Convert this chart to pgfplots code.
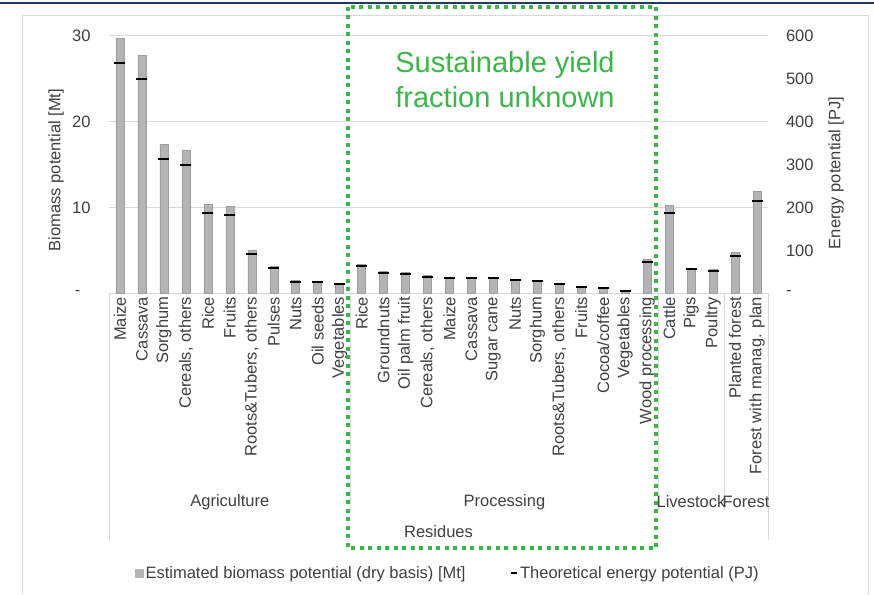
\documentclass[border=0pt]{standalone}
\usepackage{fontspec}
\setmainfont{Liberation Sans}
\usepackage{pgfplots}
\pgfplotsset{compat=1.18}
\definecolor{barfill}{RGB}{180,180,182}
\definecolor{baredge}{RGB}{158,158,162}
\definecolor{gridc}{RGB}{217,217,217}
\definecolor{txt}{RGB}{64,64,64}
\definecolor{hl}{RGB}{61,181,74}
\definecolor{navy}{RGB}{31,56,100}
\newcommand{\fs}{\fontsize{16.5}{19.5}\selectfont}

\begin{document}
\begin{tikzpicture}
\useasboundingbox (0,0) rectangle (874pt,594pt);
\fill[white] (0,0) rectangle (874pt,594pt);
% frame of the chart area
\draw[navy, line width=2pt] (0,591pt) -- (874pt,591pt);
\draw[gridc, line width=1pt] (22pt,0) -- (22pt,578pt) -- (868pt,578pt) -- (868pt,0);

% biomass bars (left axis)
\begin{axis}[
  scale only axis, width=659pt, height=257.6pt,
  at={(109pt,300.7pt)}, anchor=south west,
  xmin=-0.5, xmax=29.5, ymin=0, ymax=30,
  xtick={0,...,29}, ytick={0,10,20,30},
  yticklabels={{-\rule{10pt}{0pt}},10,20,30},
  xticklabels={Maize,Cassava,Sorghum,{Cereals, others},Rice,Fruits,{Roots\&Tubers, others},Pulses,Nuts,Oil seeds,Vegetables,Rice,Groundnuts,Oil palm fruit,{Cereals, others},Maize,Cassava,Sugar cane,Nuts,Sorghum,{Roots\&Tubers, others},Fruits,Cocoa/coffee,Vegetables,Wood processing,Cattle,Pigs,Poultry,Planted forest,Forest with manag. plan},
  x tick label style={rotate=90, anchor=east},
  yticklabel style={anchor=east, xshift=-15pt},
  tick label style={font=\fs, text=txt},
  major tick length=0pt,
  axis line style={draw=none},
  ymajorgrids, grid style={gridc, line width=1pt},
  clip=false,
]
\addplot[ybar, bar width=8pt, fill=barfill, draw=baredge, line width=0.5pt] coordinates {
  (0,29.7) (1,27.7) (2,17.3) (3,16.7) (4,10.4) (5,10.1) (6,5.05) (7,3.2) (8,1.5) (9,1.45)
  (10,1.2) (11,3.4) (12,2.55) (13,2.4) (14,2.05) (15,1.9) (16,1.82) (17,1.82) (18,1.6) (19,1.5)
  (20,1.17) (21,0.82) (22,0.7) (23,0.3) (24,4.0) (25,10.2) (26,2.9) (27,2.85) (28,4.75) (29,11.9)
};
\end{axis}

% energy markers (right axis)
\begin{axis}[
  scale only axis, width=659pt, height=257.6pt,
  at={(109pt,300.7pt)}, anchor=south west,
  xmin=-0.5, xmax=29.5, ymin=0, ymax=600,
  axis y line*=right, axis x line=none,
  axis line style={draw=none},
  ytick={0,100,200,300,400,500,600},
  yticklabels={-,100,200,300,400,500,600},
  yticklabel style={anchor=west, xshift=14.5pt},
  tick label style={font=\fs, text=txt},
  major tick length=0pt,
  clip=false,
  legend columns=2,
  legend style={at={(axis description cs:0.0394,-1.086)}, anchor=west,
    draw=none, fill=none, inner sep=0pt, font=\fs, text=txt,
    nodes={inner sep=2pt},
    /tikz/every even column/.append style={column sep=42pt}},
]
\addlegendimage{legend image code/.code={\fill[barfill] (0pt,-4pt) rectangle (8pt,4pt);}}
\addlegendentry{Estimated biomass potential (dry basis) [Mt]}
\addplot[only marks, mark=-, mark size=5.5pt, mark options={line width=2pt, black},
  legend image code/.code={\draw[black, line width=2pt] (0pt,0pt) -- (6.5pt,0pt);}] coordinates {
  (0,536) (1,498) (2,312) (3,300) (4,186) (5,182) (6,92) (7,58) (8,26) (9,26)
  (10,22) (11,63) (12,48) (13,46) (14,39) (15,36) (16,35) (17,35) (18,30) (19,29)
  (20,22) (21,15) (22,13) (23,5) (24,73) (25,186) (26,56) (27,52) (28,87) (29,214)
};
\addlegendentry{Theoretical energy potential (PJ)}
\end{axis}

% axis titles
\node[rotate=90, font=\fs, text=txt] at (56pt,424pt) {Biomass potential [Mt]};
\node[rotate=90, font=\fs, text=txt] at (836pt,421pt) {Energy potential [PJ]};

% multi-level category separators
\draw[gridc, line width=1pt] (109pt,300.7pt) -- (109pt,54pt);
\draw[gridc, line width=1pt] (768pt,300.7pt) -- (768pt,54pt);
\draw[gridc, line width=1pt] (350.6pt,300.7pt) -- (350.6pt,84pt);
\draw[gridc, line width=1pt] (658.1pt,300.7pt) -- (658.1pt,84pt);
\draw[gridc, line width=1pt] (724pt,300.7pt) -- (724pt,84pt);

% group labels
\node[font=\fs, text=txt] at (229.8pt,92pt) {Agriculture};
\node[font=\fs, text=txt] at (504.4pt,92pt) {Processing};
\node[font=\fs, text=txt] at (691pt,92pt) {Livestock};
\node[font=\fs, text=txt] at (746pt,92pt) {Forest};
\node[font=\fs, text=txt] at (438.5pt,62pt) {Residues};

% highlighted region
\node[font=\fontsize{29}{35}\selectfont, text=hl, anchor=base] at (505pt,521pt) {Sustainable yield};
\node[font=\fontsize{29}{35}\selectfont, text=hl, anchor=base] at (505pt,486pt) {fraction unknown};
\draw[hl, line width=4pt, dash pattern=on 4pt off 4.5pt] (348pt,587pt) rectangle (656pt,46pt);
\end{tikzpicture}
\end{document}
